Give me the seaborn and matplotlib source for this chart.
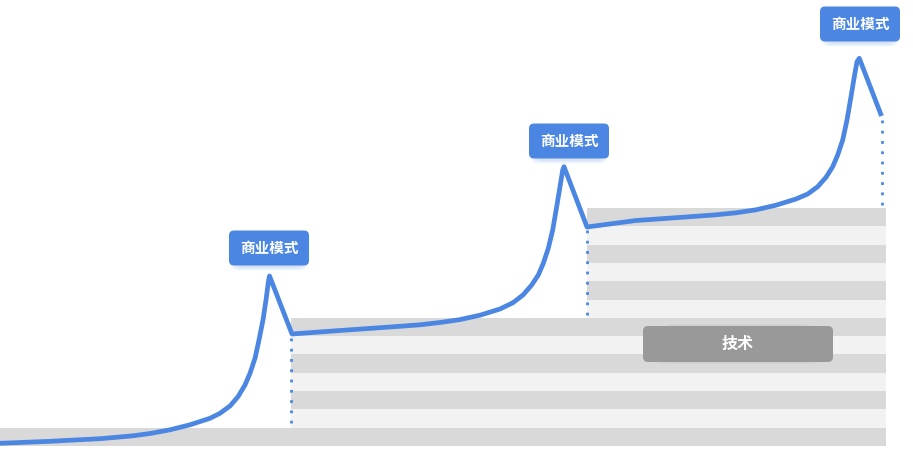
import numpy as np
import pandas as pd
import matplotlib
matplotlib.use('Agg')
import matplotlib.pyplot as plt
from matplotlib.patches import FancyBboxPatch
import seaborn as sns

# growth curve (x in px, y in px from the top)
stage1_x = [0, 50, 100, 133, 150, 170, 190, 210, 220, 230, 238, 245, 250,
            255, 259, 263, 266, 268.5, 269.5, 292]
stage1_y = [443.3, 441.3, 438.7, 435.8, 433.5, 429.8, 424.8, 418.3, 413.3, 406,
            396.7, 385, 373.3, 358.3, 340, 320, 300, 281, 276, 334]
stage2_x = [340, 390, 420, 440, 460, 480, 500, 513, 523, 531.7, 538.3, 543.3,
            548.3, 552.7, 556.7, 560, 562.7, 564, 587]
stage2_y = [330.5, 327, 324.8, 322.5, 319.6, 315.2, 309, 302.7, 295, 285, 275,
            263.3, 248.3, 230, 206.7, 186.7, 170, 166.7, 227]
stage3_x = [636, 686, 716, 736, 756, 776, 796, 807.7, 817.7, 826, 832.7, 837.7,
            842.7, 847, 851, 854.3, 857, 859.3, 881.5]
stage3_y = [220.5, 217, 214.8, 212.8, 209.8, 205.2, 199, 194, 186.7, 177.3, 166.7,
            155, 140, 120, 96.7, 76.7, 61.7, 58.3, 116]

# staircase of stripes: first band, then two groups of six
band_top = 208
band_bottom = 446
band_start = [0] + [291] * 6 + [587] * 6
band_end = 886

# dotted drop lines
drop_x = [291, 587, 882]
drop_top = [338, 230, 120]
drop_bottom = [428, 318, 208]

# labels
model_label = '商业模式'
model_cx = [269, 569, 860]
model_cy = [248, 141, 24]
tech_label = '技术'

blue = '#4a86e2'

sns.set_theme(style='white')
plt.rcParams['font.family'] = ['Noto Sans CJK SC', 'DejaVu Sans']

fig = plt.figure(figsize=(9.13, 4.51), dpi=100)
ax = fig.add_axes([0, 0, 1, 1])

# stripes
n = len(band_start)
h = (band_bottom - band_top) / n
for i, x0 in enumerate(band_start):
    y0 = band_bottom - (i + 1) * h
    col = '#d9d9d9' if i % 2 == 0 else '#f2f2f2'
    ax.barh(y0 + h / 2, band_end - x0, left=x0, height=h, color=col,
            linewidth=0, zorder=1)

# dotted verticals
for x, t, b in zip(drop_x, drop_top, drop_bottom):
    ax.plot([x, x], [t, b], color=blue, lw=2.0, linestyle=(0, (1, 2.7)),
            zorder=2)

# main line
df = pd.DataFrame({'x': stage1_x + stage2_x + stage3_x,
                   'y': stage1_y + stage2_y + stage3_y})
sns.lineplot(data=df, x='x', y='y', sort=False, color=blue, lw=3.4,
             ax=ax, zorder=3)
ax.lines[-1].set_solid_joinstyle('round')
ax.lines[-1].set_solid_capstyle('butt')
ax.set_xlim(0, 913)
ax.set_ylim(451, 0)
ax.axis('off')

# blue label boxes
bw, bh = 80, 35
for cx, cy in zip(model_cx, model_cy):
    for k in range(6):
        ax.add_patch(FancyBboxPatch((cx - bw / 2 + 6 - k, cy - bh / 2 + 6 + k * 0.6),
                                    bw - 12 + 2 * k, bh - 4,
                                    boxstyle='round,pad=0,rounding_size=8',
                                    fc=blue, ec='none', alpha=0.04, zorder=4))
    ax.add_patch(FancyBboxPatch((cx - bw / 2, cy - bh / 2), bw, bh,
                                boxstyle='round,pad=0,rounding_size=5',
                                fc=blue, ec='none', zorder=5))
    ax.text(cx, cy, model_label, color='white', fontsize=10.5, fontweight='bold',
            ha='center', va='center', zorder=6)

# grey tech box
tx, ty, tw, th = 643, 326, 190, 36
for k in range(6):
    ax.add_patch(FancyBboxPatch((tx + 20 - 2 * k, ty - 2 + k * 0.8), tw - 40 + 4 * k, th,
                                boxstyle='round,pad=0,rounding_size=10',
                                fc='#808080', ec='none', alpha=0.04, zorder=4))
ax.add_patch(FancyBboxPatch((tx, ty), tw, th,
                            boxstyle='round,pad=0,rounding_size=5',
                            fc='#999999', ec='none', zorder=5))
ax.text(tx + tw / 2, ty + th / 2, tech_label, color='white', fontsize=11.5,
        fontweight='bold', ha='center', va='center', zorder=6)

fig.savefig('out.png', dpi=100)
